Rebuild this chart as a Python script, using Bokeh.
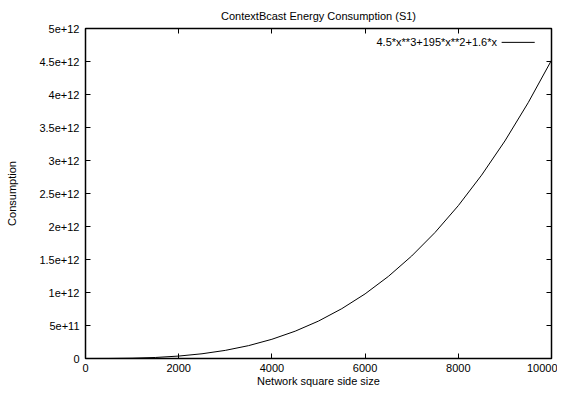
from bokeh.plotting import figure
from bokeh.models import LinearAxis, FixedTicker, Range1d, Label, CustomLabelingPolicy
from bokeh.embed import file_html
from bokeh.resources import INLINE

# Data
side_size = [0, 500, 1000, 1500, 2000, 2500, 3000, 3500, 4000, 4500, 5000,
             5500, 6000, 6500, 7000, 7500, 8000, 8500, 9000, 9500, 10000]
consumption = [0, 6.1e8, 4.7e9, 1.56e10, 3.68e10, 7.15e10, 1.23e11, 1.95e11,
               2.91e11, 4.14e11, 5.67e11, 7.55e11, 9.79e11, 1.244e12, 1.553e12,
               1.909e12, 2.316e12, 2.778e12, 3.296e12, 3.876e12, 4.5195e12]
series_label = "4.5*x**3+195*x**2+1.6*x"

x_ticks = [0, 2000, 4000, 6000, 8000, 10000]
x_tick_labels = ["0", "2000", "4000", "6000", "8000", "10000"]
y_ticks = [0, 5e11, 1e12, 1.5e12, 2e12, 2.5e12, 3e12, 3.5e12, 4e12, 4.5e12, 5e12]
y_tick_labels = ["0", "5e+11", "1e+12", "1.5e+12", "2e+12", "2.5e+12", "3e+12",
                 "3.5e+12", "4e+12", "4.5e+12", "5e+12"]

FONT = "Liberation Sans"
FS = "11px"

p = figure(width=557, height=390, output_backend="svg", toolbar_location=None,
           x_range=Range1d(0, 10000), y_range=Range1d(0, 5e12),
           min_border_left=85, min_border_right=6, min_border_top=28,
           min_border_bottom=32,
           title="ContextBcast Energy Consumption (S1)")
p.title.align = "center"
p.title.text_font = FONT
p.title.text_font_size = FS
p.title.text_font_style = "normal"
p.title.text_color = "black"
p.title.standoff = 13

p.xgrid.visible = False
p.ygrid.visible = False
p.outline_line_color = "black"
p.outline_line_width = 1.5
p.outline_line_alpha = 1.0

xt = FixedTicker(ticks=x_ticks)
yt = FixedTicker(ticks=y_ticks)

def style(ax):
    ax.major_tick_in = 5
    ax.major_tick_out = 0
    ax.minor_tick_line_color = None
    ax.major_tick_line_color = "black"
    ax.axis_line_color = None
    ax.major_label_text_font = FONT
    ax.major_label_text_font_size = FS
    ax.major_label_text_color = "black"
    ax.axis_label_text_font = FONT
    ax.axis_label_text_font_size = FS
    ax.axis_label_text_font_style = "normal"
    ax.axis_label_text_color = "black"

xa = p.xaxis[0]
xa.ticker = xt
xa.major_label_overrides = dict(zip(x_ticks, x_tick_labels))
style(xa)
xa.major_label_standoff = 5
xa.axis_label = "Network square side size"
xa.axis_label_standoff = 0

ya = p.yaxis[0]
ya.ticker = yt
ya.major_label_overrides = dict(zip(y_ticks, y_tick_labels))
style(ya)
ya.major_label_standoff = 6
ya.axis_label = "Consumption"
ya.axis_label_standoff = 18

# mirrored inward ticks on top and right, without labels
no_labels = CustomLabelingPolicy(code="""
for (let i = 0; i < indices.size; i++) { indices.unset(i) }
return indices
""")
for loc, tk in (("above", xt), ("right", yt)):
    ax = LinearAxis(ticker=tk)
    style(ax)
    ax.major_label_policy = no_labels
    ax.major_label_text_font_size = "0px"
    ax.major_label_standoff = 0
    p.add_layout(ax, loc)

p.line(side_size, consumption, line_color="black", line_width=1)

# legend (text right-aligned, sample line to its right)
p.add_layout(Label(x=8830, y=4.79e12, text=series_label, text_align="right",
                   text_baseline="middle", text_font=FONT, text_font_size=FS,
                   text_color="black"))
p.segment(x0=[8930], y0=[4.79e12], x1=[9640], y1=[4.79e12],
          line_color="black", line_width=1)

open("out.html", "w").write(file_html(p, INLINE))
